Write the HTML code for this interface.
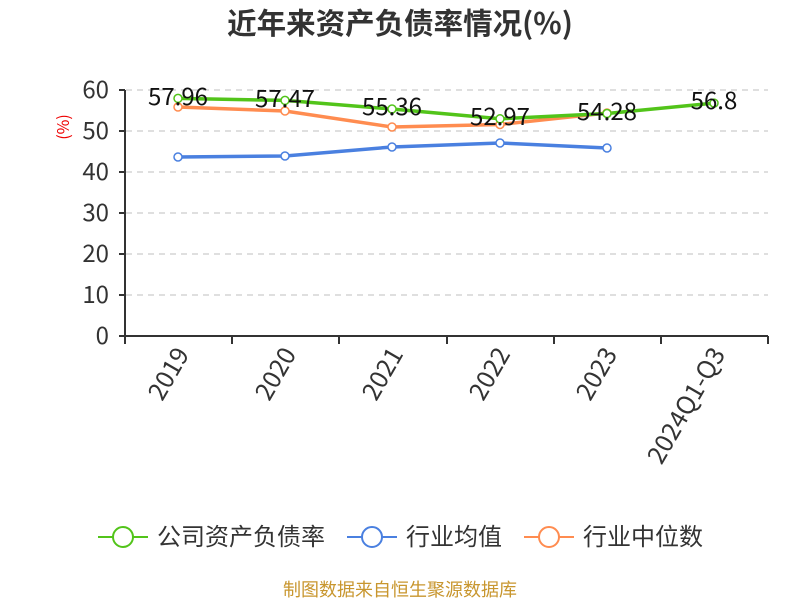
<!DOCTYPE html>
<html><head><meta charset="utf-8"><style>body{margin:0;background:#fff}svg{display:block}</style></head>
<body>
<svg width="800" height="600" xmlns="http://www.w3.org/2000/svg" font-family="'Noto Sans CJK SC',sans-serif">
<text x="400" y="34" text-anchor="middle" font-size="29.5" font-weight="bold" fill="#333">近年来资产负债率情况(%)</text>
<g stroke="#ccc" stroke-dasharray="6,5" stroke-width="1.3">
<line x1="126" x2="768" y1="90" y2="90"/><line x1="126" x2="768" y1="131" y2="131"/><line x1="126" x2="768" y1="172" y2="172"/><line x1="126" x2="768" y1="213" y2="213"/><line x1="126" x2="768" y1="254" y2="254"/><line x1="126" x2="768" y1="295" y2="295"/>
</g>
<g stroke="#333" stroke-width="2"><line x1="125" x2="125" y1="90" y2="337"/><line x1="119" x2="768" y1="336" y2="336"/>
<line x1="119" x2="125" y1="90" y2="90"/><line x1="119" x2="125" y1="131" y2="131"/><line x1="119" x2="125" y1="172" y2="172"/><line x1="119" x2="125" y1="213" y2="213"/><line x1="119" x2="125" y1="254" y2="254"/><line x1="119" x2="125" y1="295" y2="295"/>
<line x1="125" x2="125" y1="336" y2="344"/><line x1="232" x2="232" y1="336" y2="344"/><line x1="339" x2="339" y1="336" y2="344"/><line x1="447" x2="447" y1="336" y2="344"/><line x1="554" x2="554" y1="336" y2="344"/><line x1="661" x2="661" y1="336" y2="344"/><line x1="768" x2="768" y1="336" y2="344"/></g>
<g font-size="24" fill="#333" text-anchor="end"><text x="109" y="98">60</text><text x="109" y="139">50</text><text x="109" y="180">40</text><text x="109" y="221">30</text><text x="109" y="262">20</text><text x="109" y="303">10</text><text x="109" y="344">0</text></g>
<text transform="translate(69,127) rotate(-90)" font-size="16" fill="#e00" text-anchor="middle">(%)</text>
<g font-size="25" fill="#333" text-anchor="end">
<text transform="translate(190,354) rotate(-60)">2019</text>
<text transform="translate(297,354) rotate(-60)">2020</text>
<text transform="translate(404,354) rotate(-60)">2021</text>
<text transform="translate(511,354) rotate(-60)">2022</text>
<text transform="translate(618,354) rotate(-60)">2023</text>
<text transform="translate(726,354) rotate(-60)">2024Q1-Q3</text>
</g>
<g fill="none" stroke-width="3.5">
<polyline stroke="#4a80e0" points="178,157 285,156 392,147 500,143 607,148"/>
<polyline stroke="#ff8c50" points="178,107 285,111 392,127 500,124.5 607,113"/>
<polyline stroke="#52c41a" points="178,98.4 285,100.4 392,109 500,118.8 607,113.5 714,103.1"/>
</g>
<g fill="#fff" stroke-width="1.5">
<g stroke="#4a80e0"><circle cx="178" cy="157" r="4"/><circle cx="285" cy="156" r="4"/><circle cx="392" cy="147" r="4"/><circle cx="500" cy="143" r="4"/><circle cx="607" cy="148" r="4"/></g>
<g stroke="#ff8c50"><circle cx="178" cy="107" r="4"/><circle cx="285" cy="111" r="4"/><circle cx="392" cy="127" r="4"/><circle cx="500" cy="124.5" r="4"/><circle cx="607" cy="113" r="4"/></g>
<g stroke="#52c41a"><circle cx="178" cy="98.4" r="4"/><circle cx="285" cy="100.4" r="4"/><circle cx="392" cy="109" r="4"/><circle cx="500" cy="118.8" r="4"/><circle cx="607" cy="113.5" r="4"/><circle cx="714" cy="103.1" r="4"/></g>
</g>
<g font-size="24" fill="#111" text-anchor="middle">
<text x="178" y="105">57.96</text><text x="285" y="107">57.47</text><text x="392" y="115">55.36</text><text x="500" y="125">52.97</text><text x="607" y="120">54.28</text><text x="714" y="109">56.8</text>
</g>
<g stroke-width="2" fill="#fff">
<line x1="98" x2="148" y1="537" y2="537" stroke="#52c41a"/><circle cx="123" cy="537" r="10" stroke="#52c41a"/>
<line x1="347" x2="397" y1="537" y2="537" stroke="#4a80e0"/><circle cx="372" cy="537" r="10" stroke="#4a80e0"/>
<line x1="524" x2="574" y1="537" y2="537" stroke="#ff8c50"/><circle cx="549" cy="537" r="10" stroke="#ff8c50"/>
</g>
<g font-size="24" fill="#333"><text x="157" y="545">公司资产负债率</text><text x="406" y="545">行业均值</text><text x="583" y="545">行业中位数</text></g>
<text x="400" y="596" text-anchor="middle" font-size="18" fill="#c8962e">制图数据来自恒生聚源数据库</text>
</svg>
</body></html>
